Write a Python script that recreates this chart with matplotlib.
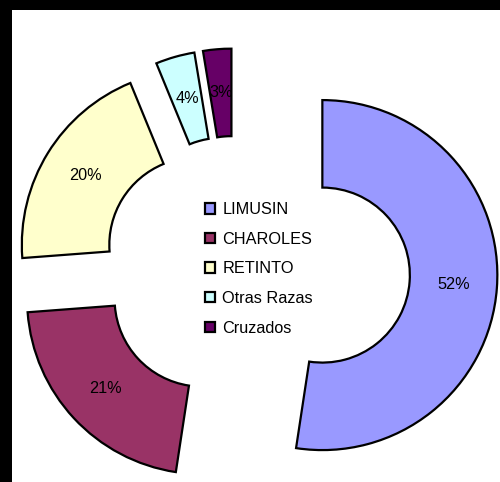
import matplotlib
matplotlib.use("Agg")
import matplotlib.pyplot as plt

# ###########################################
# Data
# ###########################################
breeds = ["LIMUSIN", "CHAROLES", "RETINTO", "Otras Razas", "Cruzados"]
shares = [52.4, 21.4, 20.0, 3.6, 2.6]
colors = ["#9999FF", "#993366", "#FFFFCC", "#CCFFFF", "#660066"]
explode = [0.50, 0.257, 0.257, 0.257, 0.257]

plt.rcParams["font.family"] = ["Liberation Sans", "DejaVu Sans"]

# figure: black frame on top/left, white plot area
fig = plt.figure(figsize=(5.0, 4.82), dpi=100, facecolor="black")
ax = fig.add_axes([12 / 500, 0, 488 / 500, 472 / 482])
ax.set_facecolor("white")
ax.axis("off")
ax.add_patch(plt.Rectangle((0, 0), 1, 1, transform=ax.transAxes,
                           facecolor="white", edgecolor="none", zorder=0))

wedges, texts, autotexts = ax.pie(
    shares, explode=explode, colors=colors, startangle=90, counterclock=False,
    radius=1.0, autopct="%1.0f%%", pctdistance=0.75,
    wedgeprops=dict(width=0.5, edgecolor="black", linewidth=1.6),
    textprops=dict(fontsize=11.7, color="black"))

# pie center and radius in pixels -> axis limits
cx, cy, rpx = 235.1, 268.5, 175.0
ax.set_xlim((12 - cx) / rpx, (500 - cx) / rpx)
ax.set_ylim(-(482 - cy) / rpx, (cy - 10) / rpx)
ax.set_aspect("auto")

# legend in the hole
ax.legend(wedges, breeds, loc="upper left", frameon=False,
          bbox_to_anchor=(205 / 500, 1 - 202 / 482), bbox_transform=fig.transFigure,
          borderpad=0, borderaxespad=0, fontsize=11.7,
          handlelength=0.62, handleheight=0.62, handletextpad=0.45,
          labelspacing=0.9)

fig.savefig("out.png", dpi=100, facecolor=fig.get_facecolor())
